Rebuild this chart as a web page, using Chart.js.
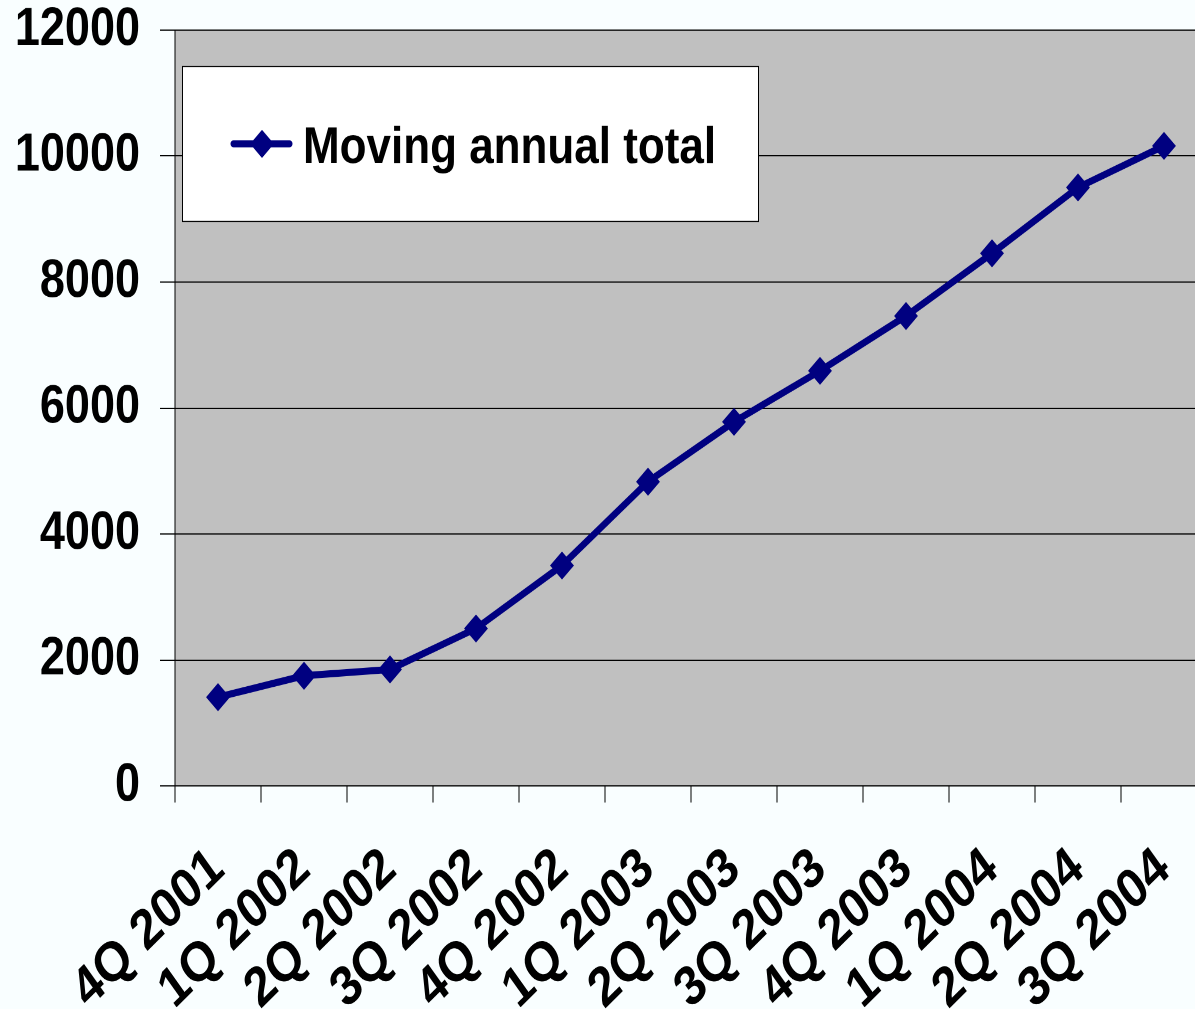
<!DOCTYPE html>
<html><head><meta charset="utf-8">
<script src="https://cdn.jsdelivr.net/npm/chart.js@4/dist/chart.umd.min.js"></script>
<style>
html,body{margin:0;padding:0;width:1195px;height:1009px;overflow:hidden;background:#F9FEFF;}
#wrap{position:absolute;left:0;top:0;width:1207px;height:855px;transform:scale(1,1.18);transform-origin:0 0;}
canvas{display:block}
</style></head><body>
<div id="wrap"><canvas id="c" width="1207" height="855" style="width:1207px;height:855px"></canvas></div>
<script>
const categories = ['4Q 2001','1Q 2002','2Q 2002','3Q 2002','4Q 2002','1Q 2003','2Q 2003','3Q 2003','4Q 2003','1Q 2004','2Q 2004','3Q 2004'];
const movingAnnualTotal = [1410, 1750, 1850, 2500, 3500, 4830, 5780, 6590, 7460, 8455, 9500, 10160];
const yTicks = [0, 2000, 4000, 6000, 8000, 10000, 12000];
const seriesName = 'Moving annual total';

const FONT = '"Liberation Sans", Arial, sans-serif';
const W = 1207, H = 855;
const PLOT_TOP = 25.4, PLOT_BOTTOM = 666.1, PLOT_LEFT = 175;

const bgPlugin = {
  id: 'bg',
  beforeDraw(chart) {
    const ctx = chart.ctx, a = chart.chartArea;
    ctx.save();
    ctx.fillStyle = '#F9FEFF';
    ctx.fillRect(0, 0, chart.width, chart.height);
    ctx.fillStyle = '#C0C0C0';
    ctx.fillRect(a.left, a.top, a.right - a.left, a.bottom - a.top);
    ctx.restore();
  }
};

const legendBox = {
  id: 'legendBox',
  afterDatasetsDraw(chart) {
    const ctx = chart.ctx, a = chart.chartArea, ds = chart.data.datasets[0];
    const x = a.left + 7, y = a.top + 30.5, w = 577, h = 132.2;
    ctx.save();
    ctx.fillStyle = '#FFFFFF';
    ctx.fillRect(x, y, w, h);
    ctx.strokeStyle = '#000';
    ctx.lineWidth = 1;
    ctx.strokeRect(x + 0.5, y + 0.5, w - 1, h - 1);
    const cy = y + 66;
    ctx.strokeStyle = ds.borderColor;
    ctx.lineWidth = ds.borderWidth;
    ctx.lineCap = 'round';
    ctx.beginPath();
    ctx.moveTo(x + 51.5, cy);
    ctx.lineTo(x + 107.5, cy);
    ctx.stroke();
    ctx.fillStyle = ds.pointBackgroundColor;
    ctx.strokeStyle = ds.pointBorderColor;
    ctx.lineWidth = ds.pointBorderWidth;
    Chart.helpers.drawPoint(ctx, {pointStyle: 'rectRot', radius: ds.pointRadius, rotation: 0, borderWidth: ds.pointBorderWidth}, x + 80, cy);
    ctx.fillStyle = '#000';
    ctx.font = 'bold 44px ' + FONT;
    ctx.textBaseline = 'alphabetic';
    ctx.textAlign = 'left';
    ctx.fillText(ds.label, x + 121, y + 82.2);
    ctx.restore();
  }
};

new Chart(document.getElementById('c'), {
  type: 'line',
  data: {
    labels: categories,
    datasets: [{
      label: seriesName,
      data: movingAnnualTotal,
      borderColor: '#000080',
      backgroundColor: '#000080',
      borderWidth: 6,
      tension: 0,
      fill: false,
      pointStyle: 'rectRot',
      pointRadius: 10.5,
      pointHoverRadius: 10.5,
      pointBackgroundColor: '#000080',
      pointBorderColor: '#000080',
      pointBorderWidth: 2,
      clip: false
    }]
  },
  options: {
    responsive: false,
    devicePixelRatio: 2,
    animation: false,
    events: [],
    layout: { autoPadding: false, padding: { top: PLOT_TOP, left: 0, right: 0, bottom: 0 } },
    plugins: { legend: { display: false }, tooltip: { enabled: false }, title: { display: false } },
    scales: {
      x: {
        type: 'category',
        offset: true,
        grid: { offset: true, drawOnChartArea: false, drawTicks: true, tickLength: 14, color: '#000', lineWidth: 1 },
        border: { display: true, color: '#000', width: 1 },
        ticks: { autoSkip: false, maxRotation: 40, minRotation: 40, color: '#000', padding: 28,
                 font: { family: FONT, size: 47, weight: 'bold' } },
        afterFit(scale) {
          scale.height = H - PLOT_BOTTOM;
          scale.paddingLeft = 0; scale.paddingRight = 0;
        }
      },
      y: {
        min: 0, max: 12000,
        grid: { color: '#000', lineWidth: 1, tickLength: 15, drawTicks: true },
        border: { display: true, color: '#000', width: 1 },
        ticks: { color: '#000', padding: 20, font: { family: FONT, size: 45, weight: 'bold' },
                 callback: (v) => String(v) },
        afterBuildTicks(scale) { scale.ticks = yTicks.map(v => ({ value: v })); },
        afterFit(scale) {
          scale.width = PLOT_LEFT;
          scale.paddingTop = 0; scale.paddingBottom = 0;
        }
      }
    }
  },
  plugins: [bgPlugin, legendBox]
});
</script>
</body></html>
